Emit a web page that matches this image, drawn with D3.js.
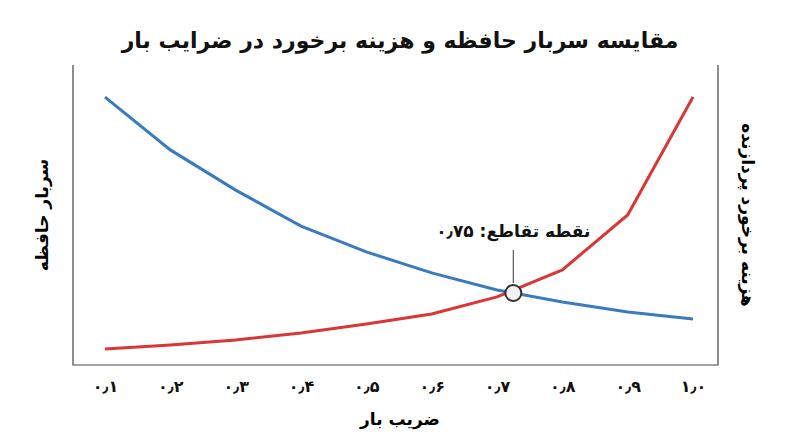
<!DOCTYPE html>
<html><head><meta charset="utf-8">
<script src="https://cdn.jsdelivr.net/npm/d3@7"></script>
<style>body{margin:0;background:#fff}text{font-family:"DejaVu Sans",sans-serif}</style>
</head><body><svg id="c" width="800" height="447"></svg>
<script>
const loadFactors=[0.1,0.2,0.3,0.4,0.5,0.6,0.7,0.8,0.9,1.0];
const tickLabels=["۰٫۱","۰٫۲","۰٫۳","۰٫۴","۰٫۵","۰٫۶","۰٫۷","۰٫۸","۰٫۹","۱٫۰"];
const memoryOverhead=[89.3,71.7,58.3,46.3,37.7,30.7,25,21,17.7,15.3];
const collisionCost=[5.3,6.7,8.3,10.7,13.7,17,22.7,31.7,50,89.3];
const crossing={x:0.725,y:24,label:"نقطه تقاطع: ۰٫۷۵"};
const svg=d3.select("#c");
const L=73,R=718,T=65,B=365;
const x=d3.scaleLinear().domain([0.1,1.0]).range([105,693]);
const y=d3.scaleLinear().domain([0,100]).range([B,T]);
svg.append("text").attr("x",400).attr("y",48).attr("text-anchor","middle").attr("font-size",22).attr("font-weight","bold").attr("fill","#111").text("مقایسه سربار حافظه و هزینه برخورد در ضرایب بار");
svg.append("path").attr("d",`M${L},${T}V${B}H${R}V${T}`).attr("fill","none").attr("stroke","#444").attr("stroke-width",1.2);
const xa=svg.append("g").attr("transform",`translate(0,${B})`).call(d3.axisBottom(x).tickValues(loadFactors).tickSize(0).tickFormat((d,i)=>tickLabels[i]));
xa.select(".domain").remove();
xa.selectAll("text").attr("font-size",16).attr("font-weight","bold").attr("fill","#111").attr("font-family","DejaVu Sans").attr("dy","1.5em");
svg.append("text").attr("x",400).attr("y",425).attr("text-anchor","middle").attr("font-size",17).attr("font-weight","bold").text("ضریب بار");
svg.append("text").attr("transform","translate(48,215) rotate(-90)").attr("text-anchor","middle").attr("font-size",17).attr("font-weight","bold").text("سربار حافظه");
svg.append("text").attr("transform","translate(742,215) rotate(90)").attr("text-anchor","middle").attr("font-size",17).attr("font-weight","bold").attr("direction","rtl").text("هزینه برخورد پردازنده");
const line=d3.line().x((d,i)=>x(loadFactors[i])).y(d=>y(d));
svg.append("path").attr("d",line(memoryOverhead)).attr("fill","none").attr("stroke","#3a7bbf").attr("stroke-width",3);
svg.append("path").attr("d",line(collisionCost)).attr("fill","none").attr("stroke","#d93636").attr("stroke-width",3);
const cx=x(crossing.x),cy=y(crossing.y);
svg.append("line").attr("x1",cx).attr("x2",cx).attr("y1",cy-10).attr("y2",cy-43).attr("stroke","#555").attr("stroke-width",1.2);
svg.append("circle").attr("cx",cx).attr("cy",cy).attr("r",8).attr("fill","#f2f2f2").attr("stroke","#333").attr("stroke-width",2);
svg.append("text").attr("x",cx).attr("y",cy-56).attr("text-anchor","middle").attr("font-size",17).attr("font-weight","bold").attr("fill","#111").text(crossing.label);
</script></body></html>
